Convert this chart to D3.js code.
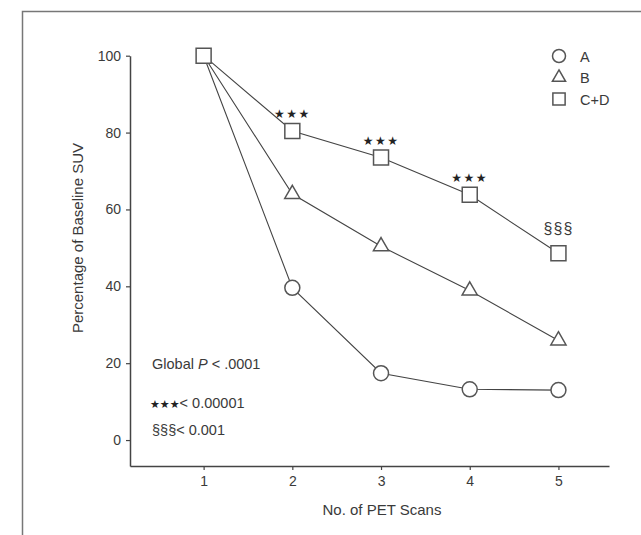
<!DOCTYPE html>
<html>
<head>
<meta charset="utf-8">
<script src="https://cdn.jsdelivr.net/npm/d3@7"></script>
<style>
  body { margin: 0; background: #fff; }
  svg { display: block; font-family: "Liberation Sans", Arial, sans-serif; }
</style>
</head>
<body>
<div id="chart"></div>
<script>
// Data
const scans = [1, 2, 3, 4, 5];
const groupA = [100, 39.6, 17.4, 13.2, 13.0];
const groupB = [100, 64.0, 50.4, 38.9, 25.9];
const groupCD = [100, 80.4, 73.5, 63.8, 48.6];
const yTicks = [0, 20, 40, 60, 80, 100];
const starScans = [2, 3, 4];     // *** over C+D
const sectionScans = [5];        // §§§ over C+D
const legendLabels = ['A', 'B', 'C+D'];

const W = 641, H = 535;
const INK = '#3a3a3a';

const svg = d3.select('#chart').append('svg')
  .attr('width', W)
  .attr('height', H);

// outer frame (only top and left edges are visible)
svg.append('path')
  .attr('d', 'M22.5,600V11.5H700')
  .attr('fill', 'none')
  .attr('stroke', '#777')
  .attr('stroke-width', 1.5);

const x = d3.scaleLinear().domain([0.17, 5.57]).range([130, 609]);
const y = d3.scaleLinear().domain([-6.75, 100]).range([466, 55.7]);

// axes
const xAxis = svg.append('g')
  .attr('transform', `translate(0,${y(-6.75)})`)
  .call(d3.axisBottom(x).tickValues(scans).tickFormat(d3.format('d'))
    .tickSize(4).tickSizeOuter(0).tickPadding(6));

const yAxis = svg.append('g')
  .attr('transform', `translate(${x(0.17)},0)`)
  .call(d3.axisLeft(y).tickValues(yTicks).tickFormat(d3.format('d'))
    .tickSize(4).tickSizeOuter(0).tickPadding(5));

[xAxis, yAxis].forEach(a => {
  a.select('.domain').attr('stroke', '#444').attr('stroke-width', 1.5);
  a.selectAll('.tick line').attr('stroke', '#444').attr('stroke-width', 1.2);
  a.selectAll('.tick text')
    .attr('fill', INK)
    .style('font-size', '14px')
    .style('font-family', '"Liberation Sans", Arial, sans-serif');
});

// axis titles
svg.append('text')
  .attr('x', 382)
  .attr('y', 515)
  .attr('text-anchor', 'middle')
  .attr('fill', INK)
  .style('font-size', '15px')
  .text('No. of PET Scans');

svg.append('text')
  .attr('transform', 'translate(83,238) rotate(-90)')
  .attr('text-anchor', 'middle')
  .attr('fill', INK)
  .style('font-size', '15px')
  .text('Percentage of Baseline SUV');

// series
const series = [
  { name: 'A', values: groupA, symbol: d3.symbolCircle, size: Math.PI * 7.5 * 7.5 },
  { name: 'B', values: groupB, symbol: d3.symbolTriangle, size: 100 },
  { name: 'C+D', values: groupCD, symbol: d3.symbolSquare, size: 225 }
];

const line = d3.line()
  .x((d, i) => x(scans[i]))
  .y(d => y(d));

svg.append('g').selectAll('path')
  .data(series)
  .join('path')
  .attr('d', s => line(s.values))
  .attr('fill', 'none')
  .attr('stroke', '#444')
  .attr('stroke-width', 1.1);

// markers; at scan 1 all groups share 100% and only the square shows
series.forEach(s => {
  const pts = s.values.map((v, i) => ({ v, i }))
    .filter(p => s.name === 'C+D' || p.i > 0);
  svg.append('g').selectAll('path')
    .data(pts)
    .join('path')
    .attr('transform', p => `translate(${x(scans[p.i])},${y(p.v)})`)
    .attr('d', d3.symbol().type(s.symbol).size(s.size))
    .attr('fill', '#fff')
    .attr('stroke', '#555')
    .attr('stroke-width', 1.5);
});

// significance marks above C+D
svg.append('g').selectAll('text')
  .data(starScans)
  .join('text')
  .attr('x', d => x(d))
  .attr('y', d => y(groupCD[d - 1]) - 13)
  .attr('text-anchor', 'middle')
  .attr('fill', '#222')
  .style('font-family', '"DejaVu Sans", sans-serif')
  .style('font-size', '12px')
  .style('letter-spacing', '1.5px')
  .text('★★★');

svg.append('g').selectAll('text')
  .data(sectionScans)
  .join('text')
  .attr('x', d => x(d))
  .attr('y', d => y(groupCD[d - 1]) - 19)
  .attr('text-anchor', 'middle')
  .attr('fill', INK)
  .style('font-size', '16px')
  .style('letter-spacing', '1px')
  .text('§§§');

// legend
const legend = svg.append('g').attr('transform', 'translate(559,56)');
const legendSizes = [Math.PI * 6.5 * 6.5, 75, 150];
legendLabels.forEach((label, i) => {
  const row = legend.append('g').attr('transform', `translate(0,${i * 21.5})`);
  row.append('path')
    .attr('d', d3.symbol().type(series[i].symbol).size(legendSizes[i]))
    .attr('fill', '#fff')
    .attr('stroke', '#555')
    .attr('stroke-width', 1.5);
  row.append('text')
    .attr('x', 21)
    .attr('y', 5.5)
    .attr('fill', INK)
    .style('font-size', '14.5px')
    .text(label);
});

// notes in lower left
const note1 = svg.append('text')
  .attr('x', 152)
  .attr('y', 369)
  .attr('fill', INK)
  .style('font-size', '14.5px');
note1.append('tspan').text('Global ');
note1.append('tspan').style('font-style', 'italic').text('P');
note1.append('tspan').text(' < .0001');

const note2 = svg.append('text')
  .attr('x', 150)
  .attr('y', 408)
  .attr('fill', INK)
  .style('font-size', '14.5px');
note2.append('tspan')
  .style('font-family', '"DejaVu Sans", sans-serif')
  .style('font-size', '11px')
  .attr('fill', '#222')
  .text('★★★');
note2.append('tspan').text('< 0.00001');

svg.append('text')
  .attr('x', 152)
  .attr('y', 435)
  .attr('fill', INK)
  .style('font-size', '14.5px')
  .text('§§§< 0.001');
</script>
</body>
</html>
